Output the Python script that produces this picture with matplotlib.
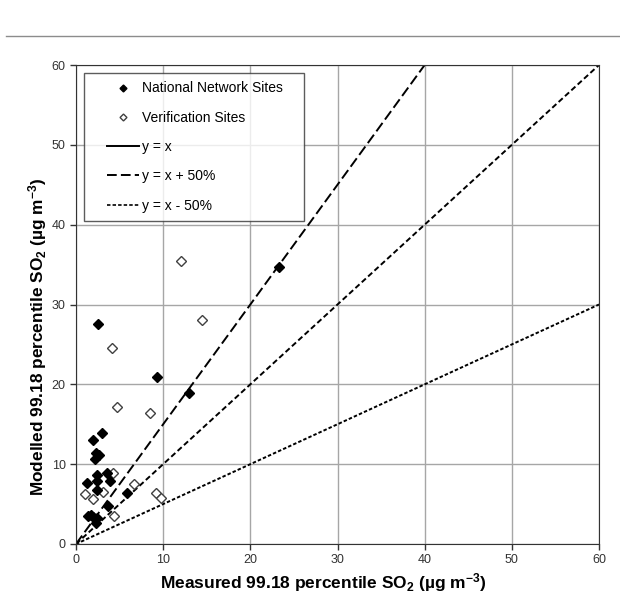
import numpy as np
import matplotlib
matplotlib.use('Agg')
import matplotlib.pyplot as plt
from matplotlib.lines import Line2D
from matplotlib.legend_handler import HandlerLine2D

plt.rcParams['font.family'] = ['Liberation Sans', 'DejaVu Sans']
plt.rcParams['mathtext.fontset'] = 'custom'
plt.rcParams['mathtext.rm'] = 'Liberation Sans:bold'
plt.rcParams['mathtext.default'] = 'rm'
plt.rcParams['lines.scale_dashes'] = False

# National network sites (measured, modelled)
nat_x = [23.3, 12.96, 9.33, 2.56, 2.94, 1.99, 2.29, 2.18, 2.6, 3.52, 2.37, 1.22,
         3.9, 2.37, 2.45, 5.81, 3.71, 1.42, 1.99, 2.45, 2.29, 1.7]
nat_y = [34.7, 18.96, 20.96, 27.6, 13.86, 13.03, 11.36, 10.7, 11.1, 8.86, 8.64, 7.68,
         7.93, 7.93, 6.76, 6.35, 4.8, 3.51, 3.43, 3.2, 2.59, 3.6]

# Verification sites
ver_x = [12.0, 14.4, 4.09, 4.67, 8.49, 4.28, 6.65, 1.03, 3.14, 1.99, 9.18, 9.71, 4.36]
ver_y = [35.4, 28.1, 24.6, 17.1, 16.4, 8.94, 7.5, 6.26, 6.55, 5.6, 6.43, 5.72, 3.55]

line_x = [0, 60]
ratios = [1.0, 1.5, 0.5]

fig = plt.figure(figsize=(6.2, 6.05), dpi=100)
ax = fig.add_axes([76 / 620, 1 - 544 / 605, 523 / 620, 479 / 605])

# separator line at the top of the page
fig.add_artist(Line2D([6 / 620, 1], [1 - 36 / 605] * 2, color='#8c8c8c', lw=1))

ax.grid(True, color='#a6a6a6', lw=1)
ax.set_axisbelow(True)

ax.plot(line_x, [v * ratios[0] for v in line_x], color='black', lw=1.4, dashes=(4, 2.2))
ax.plot(line_x, [v * ratios[1] for v in line_x], color='black', lw=1.4, dashes=(7.5, 3))
ax.plot(line_x, [v * ratios[2] for v in line_x], color='black', lw=1.4, dashes=(2.5, 1.5))

ax.plot(ver_x, ver_y, 'D', ms=5.5, mfc='white', mec='#404040', mew=1, ls='none')
ax.plot(nat_x, nat_y, 'D', ms=5, mfc='black', mec='black', mew=1, ls='none')

ax.set_xlim(0, 60)
ax.set_ylim(0, 60)
ax.set_xticks(range(0, 61, 10))
ax.set_yticks(range(0, 61, 10))
ax.tick_params(direction='out', length=4, width=1, labelsize=9, labelcolor='#333333', color='#333333')
for s in ax.spines.values():
    s.set_color('#333333')

ax.set_xlabel(r'Measured 99.18 percentile SO$_2$ (µg m$^{-3}$)', fontsize=12.5, fontweight='bold')
ax.set_ylabel(r'Modelled 99.18 percentile SO$_2$ (µg m$^{-3}$)', fontsize=12.4, fontweight='bold')
ax.yaxis.set_label_coords(-0.052, 0.432)
ax.xaxis.set_label_coords(0.473, -0.056)

handles = [
    Line2D([], [], marker='D', ms=3.5, mfc='black', mec='black', ls='none'),
    Line2D([], [], marker='D', ms=3.5, mfc='white', mec='#404040', ls='none'),
    Line2D([], [], color='black', lw=1.4),
    Line2D([], [], color='black', lw=1.4, dashes=(7, 3)),
    Line2D([], [], color='black', lw=1.2, dashes=(2.5, 1.5)),
]
labels = ['National Network Sites', 'Verification Sites', 'y = x', 'y = x + 50%', 'y = x - 50%']
hmap = {h: HandlerLine2D(xpad=1.08) for h in handles}
leg = ax.legend(handles, labels, loc='upper left', bbox_to_anchor=(0.015, 0.681, 0.421, 0.302),
                mode='expand', handler_map=hmap,
                fontsize=10, frameon=True, fancybox=False, edgecolor='#333333',
                borderaxespad=0, handlelength=3.38, handletextpad=0.2,
                labelspacing=1.1, borderpad=0.6)
leg.get_frame().set_linewidth(1)

fig.savefig('out.png', dpi=100)
